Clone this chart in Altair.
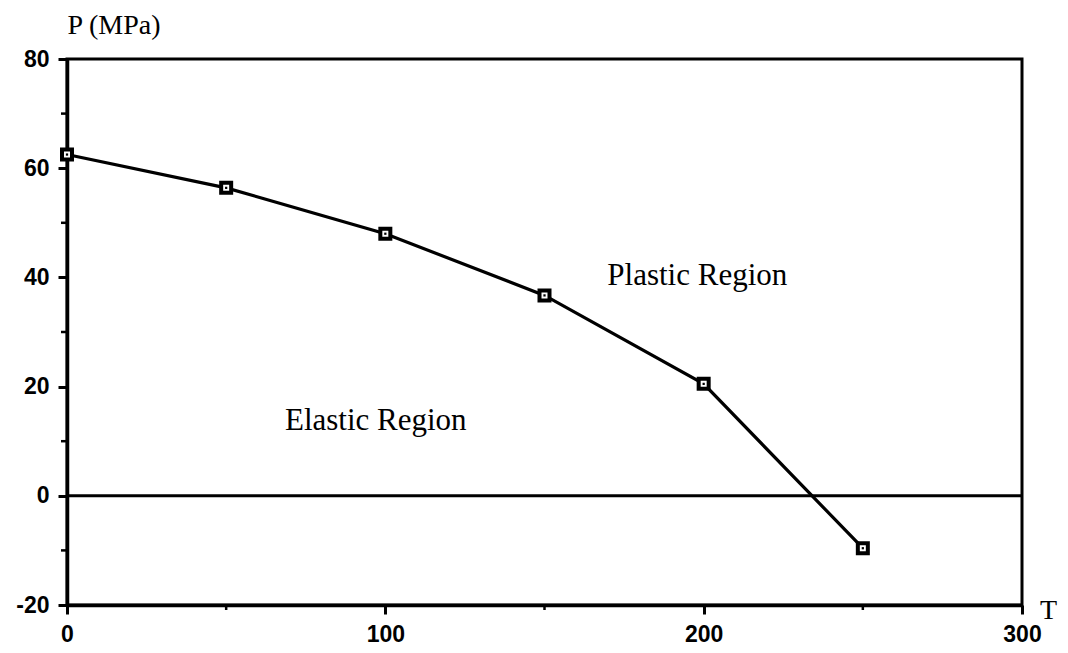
import altair as alt
import pandas as pd

# Data
T_vals = [0, 50, 100, 150, 200, 250]
P_vals = [62.5, 56.4, 48.0, 36.7, 20.5, -9.6]

x_major = [0, 100, 200, 300]
y_major = [-20, 0, 20, 40, 60, 80]
x_minor = [50, 150, 250]
y_minor = [-10, 10, 30, 50, 70]

zero_T = [0, 300]
zero_P = [0, 0]

label_text = ["Plastic Region", "Elastic Region"]
label_T = [198, 97]
label_P = [38.6, 12.1]

SERIF = "Liberation Serif"
SANS = "Liberation Sans"

df = pd.DataFrame({"T": T_vals, "P": P_vals})
zero_df = pd.DataFrame({"T": zero_T, "P": zero_P})
lab_df = pd.DataFrame({"text": label_text, "T": label_T, "P": label_P})
xmin_df = pd.DataFrame({"T": x_minor})
ymin_df = pd.DataFrame({"P": y_minor})

xscale = alt.Scale(domain=[0, 300], nice=False, zero=False)
yscale = alt.Scale(domain=[-20, 80], nice=False, zero=False)

xaxis = alt.Axis(
    values=x_major, labelExpr="'' + datum.value", grid=False, tickSize=9, tickWidth=3,
    tickColor="black", domainColor="black", domainWidth=3.5,
    labelFont=SANS, labelFontSize=23, labelFontWeight="bold", labelColor="black",
    labelPadding=9,
    title="T", titleFont=SERIF, titleFontSize=28, titleFontWeight="normal",
    titleColor="black", titleX=981, titleY=13, titleAlign="center",
    titleBaseline="alphabetic", labelFlush=False,
)
yaxis = alt.Axis(
    values=y_major, labelExpr="'' + datum.value", grid=False, tickSize=9, tickWidth=3,
    tickColor="black", domainColor="black", domainWidth=3.5,
    labelFont=SANS, labelFontSize=23, labelFontWeight="bold", labelColor="black",
    labelPadding=9,
    title="P (MPa)", titleFont=SERIF, titleFontSize=28, titleFontWeight="normal",
    titleColor="black", titleAngle=0, titleX=0, titleY=-26, titleAlign="left",
    titleBaseline="alphabetic", labelFlush=False,
)

base_x = alt.X("T:Q", scale=xscale, axis=xaxis)
base_y = alt.Y("P:Q", scale=yscale, axis=yaxis)

line = alt.Chart(df).mark_line(color="black", strokeWidth=3.2).encode(x=base_x, y=base_y)

pts = alt.Chart(df).mark_point(
    shape="square", size=100, filled=True, fill="white", stroke="black",
    strokeWidth=4, opacity=1,
).encode(x="T:Q", y="P:Q")

dots = alt.Chart(df).mark_point(
    shape="square", size=5, filled=True, color="black", opacity=1,
).encode(x="T:Q", y="P:Q")

zero = alt.Chart(zero_df).mark_line(color="black", strokeWidth=3).encode(x="T:Q", y="P:Q")

labels = alt.Chart(lab_df).mark_text(
    font=SERIF, fontSize=31, color="black", align="center", baseline="alphabetic",
).encode(x="T:Q", y="P:Q", text="text:N")

xminor = alt.Chart(xmin_df).mark_rule(color="black", strokeWidth=2.5).encode(
    x="T:Q", y=alt.value(546), y2=alt.value(551)
)
yminor = alt.Chart(ymin_df).mark_rule(color="black", strokeWidth=2.5).encode(
    y="P:Q", x=alt.value(-6), x2=alt.value(0)
)

chart = alt.layer(zero, line, pts, dots, labels, xminor, yminor).properties(
    width=955, height=546,
    background="white",
    autosize=alt.AutoSizeParams(type="none"),
    padding={"left": 67, "top": 59, "right": 46, "bottom": 48},
).configure_view(stroke="black", strokeWidth=3)

chart.save("out.html", embed_options={"renderer": "svg", "actions": False})
